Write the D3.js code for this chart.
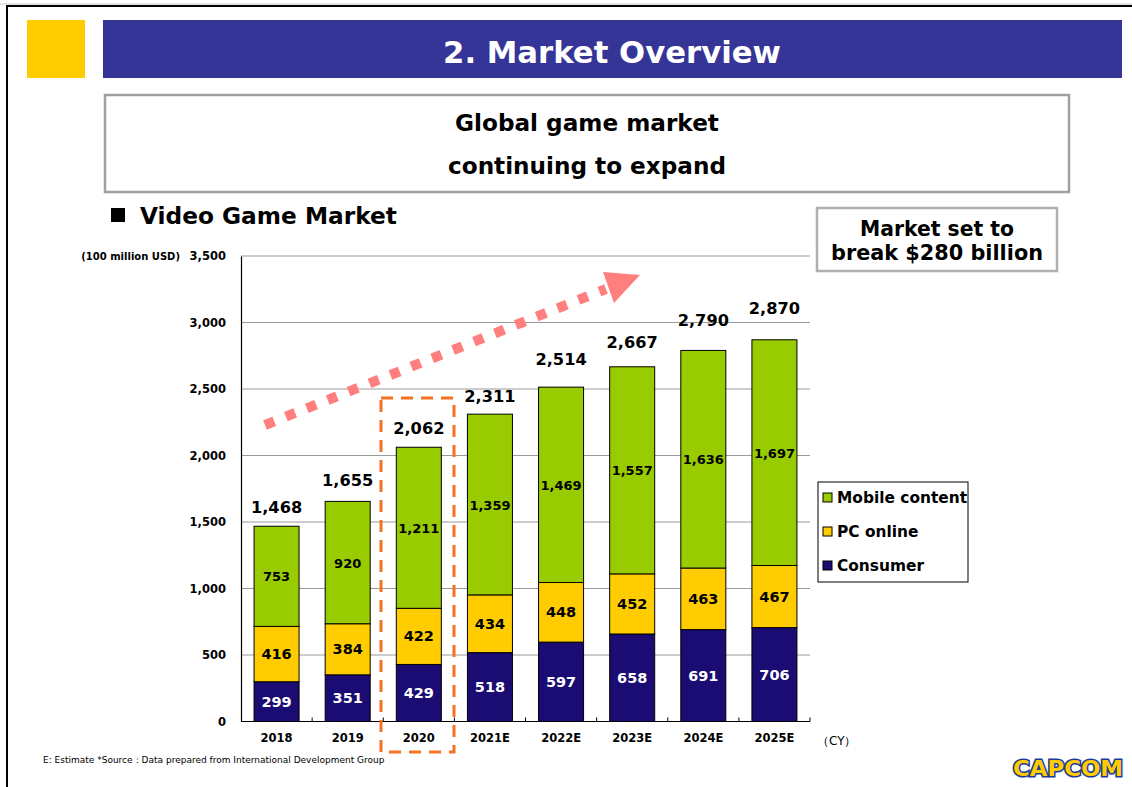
<!DOCTYPE html>
<html><head><meta charset="utf-8">
<script src="https://cdn.jsdelivr.net/npm/d3@7"></script>
<style>
html,body{margin:0;padding:0;background:#fff;}
svg{display:block;font-family:"DejaVu Sans",Verdana,sans-serif;}
</style></head>
<body>
<svg id="c" width="1132" height="787"></svg>
<script>
const years = ["2018","2019","2020","2021E","2022E","2023E","2024E","2025E"];
const consumer = [299,351,429,518,597,658,691,706];
const pcOnline = [416,384,422,434,448,452,463,467];
const mobile = [753,920,1211,1359,1469,1557,1636,1697];
const totals = [1468,1655,2062,2311,2514,2667,2790,2870];
const yTicks = [0,500,1000,1500,2000,2500,3000,3500];
const seriesNames = ["Mobile content","PC online","Consumer"];
const seriesColors = {"Consumer":"#1a0c72","PC online":"#ffcc00","Mobile content":"#99cc00"};

(function(){
const svg = d3.select("#c");
const fmt = d3.format(",");
// extra lift (px) of each hand-placed total label above its bar
const totalLift = [1,3,1,0,10,7,12,14];

// page frame
svg.append("line").attr("x1",0).attr("x2",1132).attr("y1",4).attr("y2",4).attr("stroke","#c8c8c8").attr("stroke-width",1);
svg.append("path").attr("d","M7,787 V6 H1132").attr("fill","none").attr("stroke","#000").attr("stroke-width",2);

// header
svg.append("rect").attr("x",27).attr("y",20).attr("width",58).attr("height",58).attr("fill","#ffcc00");
svg.append("rect").attr("x",103).attr("y",20).attr("width",1019).attr("height",58).attr("fill","#353598");
function fit(sel, w){ const n=sel.node(); let fs=parseFloat(sel.attr("font-size")); const L=n.getComputedTextLength(); sel.attr("font-size",(fs*w/L).toFixed(2)); return sel; }
fit(svg.append("text").attr("x",612).attr("y",63).attr("text-anchor","middle").attr("fill","#fff")
  .attr("font-weight","bold").attr("font-size",30).text("2. Market Overview"),338);

// subtitle box
svg.append("rect").attr("x",105).attr("y",95).attr("width",964).attr("height",97).attr("fill","#fff").attr("stroke","#a0a0a0").attr("stroke-width",2.5);
fit(svg.append("text").attr("x",587).attr("y",131).attr("text-anchor","middle").attr("font-weight","bold").attr("font-size",22).text("Global game market"),264);
fit(svg.append("text").attr("x",587).attr("y",174).attr("text-anchor","middle").attr("font-weight","bold").attr("font-size",22).text("continuing to expand"),278);

// section heading
svg.append("rect").attr("x",111).attr("y",208).attr("width",14).attr("height",14).attr("fill","#000");
fit(svg.append("text").attr("x",140).attr("y",224).attr("font-weight","bold").attr("font-size",22).text("Video Game Market"),257);

// callout box
svg.append("rect").attr("x",817).attr("y",208).attr("width",240).attr("height",63).attr("fill","#fff").attr("stroke","#b0b0b0").attr("stroke-width",2.5);
fit(svg.append("text").attr("x",937).attr("y",236).attr("text-anchor","middle").attr("font-weight","bold").attr("font-size",20).text("Market set to"),154);
fit(svg.append("text").attr("x",937).attr("y",260).attr("text-anchor","middle").attr("font-weight","bold").attr("font-size",20).text("break $280 billion"),212);

// scales
const pLeft=241, pRight=810, pTop=256, pBottom=721.5;
const x = d3.scaleBand().domain(years).range([pLeft,pRight]).paddingInner(0.367).paddingOuter(0.1835);
const xb = d3.scaleBand().domain(years).range([pLeft,pRight]);
const y = d3.scaleLinear().domain([0,3500]).range([pBottom,pTop]);

// gridlines
svg.append("g").selectAll("line").data(yTicks.filter(d=>d>0)).join("line")
  .attr("x1",pLeft).attr("x2",pRight).attr("y1",d=>y(d)).attr("y2",d=>y(d))
  .attr("stroke","#9a9a9a").attr("stroke-width",1);

// y axis
const yAxis = svg.append("g").attr("transform",`translate(${pLeft},0)`)
  .call(d3.axisLeft(y).tickValues(yTicks).tickFormat(fmt).tickSize(0).tickPadding(15));
yAxis.select(".domain").attr("stroke","#000").attr("stroke-width",1.2);
yAxis.selectAll("text").attr("font-family","DejaVu Sans").attr("font-weight","bold").attr("font-size",11.5).attr("fill","#000");
svg.append("text").attr("x",180).attr("y",260).attr("text-anchor","end").attr("font-weight","bold").attr("font-size",10).text("(100 million USD)");

// stacked data
const rows = years.map((yr,i)=>({year:yr,"Consumer":consumer[i],"PC online":pcOnline[i],"Mobile content":mobile[i]}));
const stack = d3.stack().keys(["Consumer","PC online","Mobile content"])(rows);

const bars = svg.append("g");
stack.forEach(layer=>{
  bars.append("g").selectAll("rect").data(layer).join("rect")
    .attr("x",d=>x(d.data.year)).attr("width",x.bandwidth())
    .attr("y",d=>y(d[1])).attr("height",d=>y(d[0])-y(d[1]))
    .attr("fill",seriesColors[layer.key]).attr("stroke","#000").attr("stroke-width",1);
  bars.append("g").selectAll("text").data(layer).join("text")
    .attr("x",d=>x(d.data.year)+x.bandwidth()/2)
    .attr("y",d=>(y(d[0])+y(d[1]))/2+5)
    .attr("text-anchor","middle").attr("font-weight","bold")
    .attr("font-size",layer.key==="Mobile content"?13:14.5)
    .attr("fill",layer.key==="Consumer"?"#fff":"#000")
    .text(d=>fmt(d.data[layer.key]));
});

// totals
svg.append("g").selectAll("text").data(years).join("text")
  .attr("x",d=>x(d)+x.bandwidth()/2).attr("y",(d,i)=>y(totals[i])-12-totalLift[i])
  .attr("text-anchor","middle").attr("font-weight","bold").attr("font-size",16.2)
  .text((d,i)=>fmt(totals[i]));

// x axis
svg.append("line").attr("x1",pLeft).attr("x2",pRight).attr("y1",pBottom).attr("y2",pBottom).attr("stroke","#000").attr("stroke-width",1.2);
svg.append("g").selectAll("line").data(years).join("line")
  .attr("x1",d=>xb(d)+xb.step()).attr("x2",d=>xb(d)+xb.step())
  .attr("y1",pBottom).attr("y2",pBottom-4).attr("stroke","#000");
svg.append("g").selectAll("text").data(years).join("text")
  .attr("x",d=>x(d)+x.bandwidth()/2).attr("y",742).attr("text-anchor","middle")
  .attr("font-weight","bold").attr("font-size",11.5).text(d=>d);
svg.append("text").attr("x",817).attr("y",745).attr("font-size",12).text("（CY）");

// highlight dashed box around 2020
svg.append("rect").attr("x",381).attr("y",398).attr("width",73).attr("height",354)
  .attr("fill","none").attr("stroke","#f47320").attr("stroke-width",3).attr("stroke-dasharray","12,8");

// growth arrow
svg.append("line").attr("x1",265).attr("y1",425).attr("x2",606).attr("y2",289)
  .attr("stroke","#ff7f7f").attr("stroke-width",10).attr("stroke-dasharray","10,12.5");
svg.append("path").attr("d","M603,272 L640,275 L614,303 Z").attr("fill","#ff7f7f");

// legend
svg.append("rect").attr("x",818).attr("y",482).attr("width",150).attr("height",100).attr("fill","#fff").attr("stroke","#000").attr("stroke-width",1);
const lg = svg.append("g").selectAll("g").data(seriesNames).join("g")
  .attr("transform",(d,i)=>`translate(823,${493+i*34})`);
lg.append("rect").attr("width",9).attr("height",9).attr("fill",d=>seriesColors[d]).attr("stroke","#000").attr("stroke-width",1);
lg.append("text").attr("x",14).attr("y",10).attr("font-weight","bold").attr("font-size",15.4).text(d=>d);

// footnote
fit(svg.append("text").attr("x",43).attr("y",763).attr("font-size",9.5).text("E: Estimate *Source\uFF1AData prepared from International Development Group"),342);

// logo
svg.append("text").attr("x",1068).attr("y",776).attr("text-anchor","middle").attr("font-weight","bold").attr("font-size",22)
  .attr("fill","#ffcc00").attr("stroke","#1c3c9c").attr("stroke-width",3).attr("paint-order","stroke")
  .attr("textLength",110).attr("lengthAdjust","spacingAndGlyphs").text("CAPCOM");
})();
</script>
</body></html>
